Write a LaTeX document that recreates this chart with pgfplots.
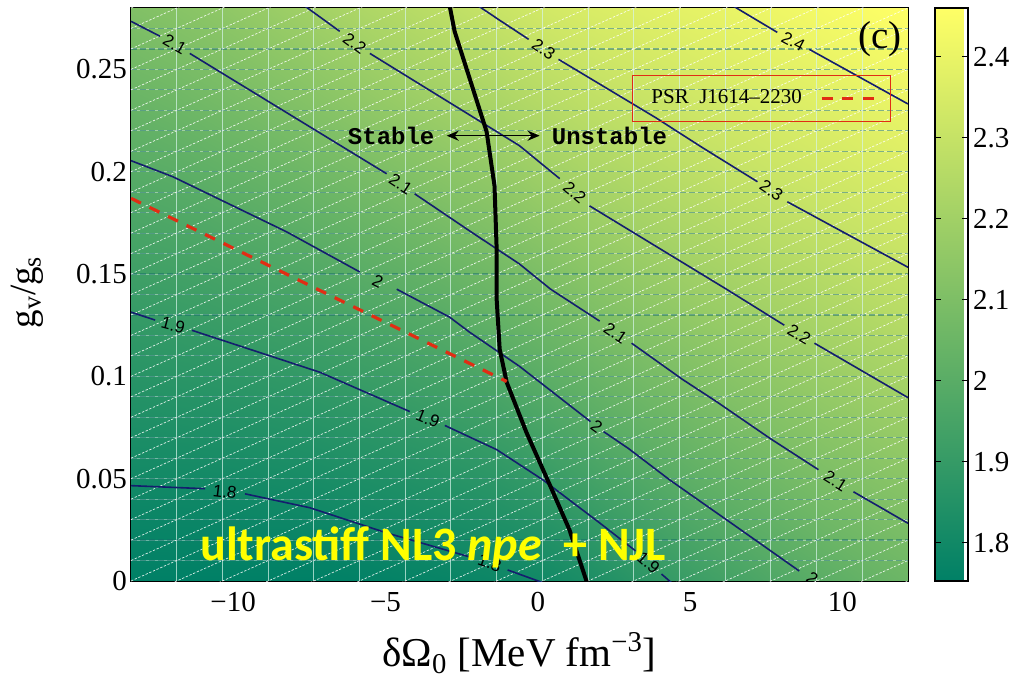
\documentclass[border=0pt]{standalone}
\usepackage{fontspec}
\setmainfont{Liberation Serif}
\newfontfamily\sansf{Liberation Sans}
\newfontfamily\monof{Liberation Mono}
\newfontfamily\calib{Carlito}
\usepackage{pgfplots}
\pgfplotsset{compat=1.18}
\usepackage{pgfplotstable}
\usetikzlibrary{arrows.meta}

\definecolor{cline}{RGB}{20,30,110}
\definecolor{redl}{RGB}{225,45,20}
\definecolor{meshv}{RGB}{215,245,235}
\definecolor{meshh}{RGB}{20,110,105}
\definecolor{yel}{RGB}{255,255,0}

\pgfplotstableread{
x y z
-13.35 0 1.745
-11.85 0 1.742
-10.35 0 1.742
-8.85 0 1.744
-7.35 0 1.748
-5.85 0 1.758
-4.35 0 1.767
-2.85 0 1.776
-1.35 0 1.788
0.15 0 1.801
1.65 0 1.830
3.15 0 1.868
4.65 0 1.906
6.15 0 1.938
7.65 0 1.972
9.15 0 2.001
10.65 0 2.029
12.15 0 2.053
-13.35 0.04 1.792
-11.85 0.04 1.793
-10.35 0.04 1.795
-8.85 0.04 1.801
-7.35 0.04 1.807
-5.85 0.04 1.819
-4.35 0.04 1.830
-2.85 0.04 1.843
-1.35 0.04 1.858
0.15 0.04 1.881
1.65 0.04 1.916
3.15 0.04 1.952
4.65 0.04 1.987
6.15 0.04 2.017
7.65 0.04 2.046
9.15 0.04 2.075
10.65 0.04 2.098
12.15 0.04 2.120
-13.35 0.08 1.840
-11.85 0.08 1.844
-10.35 0.08 1.849
-8.85 0.08 1.857
-7.35 0.08 1.866
-5.85 0.08 1.879
-4.35 0.08 1.894
-2.85 0.08 1.911
-1.35 0.08 1.933
0.15 0.08 1.965
1.65 0.08 2.001
3.15 0.08 2.033
4.65 0.08 2.063
6.15 0.08 2.092
7.65 0.08 2.118
9.15 0.08 2.142
10.65 0.08 2.164
12.15 0.08 2.186
-13.35 0.12 1.887
-11.85 0.12 1.894
-10.35 0.12 1.904
-8.85 0.12 1.915
-7.35 0.12 1.928
-5.85 0.12 1.946
-4.35 0.12 1.965
-2.85 0.12 1.984
-1.35 0.12 2.014
0.15 0.12 2.045
1.65 0.12 2.078
3.15 0.12 2.109
4.65 0.12 2.136
6.15 0.12 2.162
7.65 0.12 2.186
9.15 0.12 2.208
10.65 0.12 2.229
12.15 0.12 2.249
-13.35 0.16 1.939
-11.85 0.16 1.949
-10.35 0.16 1.962
-8.85 0.16 1.977
-7.35 0.16 1.995
-5.85 0.16 2.016
-4.35 0.16 2.038
-2.85 0.16 2.062
-1.35 0.16 2.089
0.15 0.16 2.119
1.65 0.16 2.153
3.15 0.16 2.181
4.65 0.16 2.206
6.15 0.16 2.228
7.65 0.16 2.250
9.15 0.16 2.271
10.65 0.16 2.291
12.15 0.16 2.308
-13.35 0.20 1.993
-11.85 0.20 2.005
-10.35 0.20 2.023
-8.85 0.20 2.042
-7.35 0.20 2.064
-5.85 0.20 2.087
-4.35 0.20 2.112
-2.85 0.20 2.138
-1.35 0.20 2.163
0.15 0.20 2.194
1.65 0.20 2.224
3.15 0.20 2.247
4.65 0.20 2.269
6.15 0.20 2.292
7.65 0.20 2.311
9.15 0.20 2.327
10.65 0.20 2.343
12.15 0.20 2.359
-13.35 0.24 2.051
-11.85 0.24 2.067
-10.35 0.24 2.087
-8.85 0.24 2.109
-7.35 0.24 2.134
-5.85 0.24 2.160
-4.35 0.24 2.187
-2.85 0.24 2.212
-1.35 0.24 2.236
0.15 0.24 2.264
1.65 0.24 2.290
3.15 0.24 2.310
4.65 0.24 2.328
6.15 0.24 2.345
7.65 0.24 2.362
9.15 0.24 2.378
10.65 0.24 2.394
12.15 0.24 2.410
-13.35 0.28 2.110
-11.85 0.28 2.129
-10.35 0.28 2.149
-8.85 0.28 2.177
-7.35 0.28 2.204
-5.85 0.28 2.234
-4.35 0.28 2.257
-2.85 0.28 2.282
-1.35 0.28 2.308
0.15 0.28 2.334
1.65 0.28 2.355
3.15 0.28 2.370
4.65 0.28 2.385
6.15 0.28 2.397
7.65 0.28 2.413
9.15 0.28 2.429
10.65 0.28 2.445
12.15 0.28 2.461
}\surfdata

\begin{document}
\begin{tikzpicture}
\begin{axis}[
  name=ax, scale only axis, width=388.5pt, height=286.5pt,
  xmin=-13.35, xmax=12.15, ymin=0, ymax=0.28,
  xtick={-10,-5,0,5,10}, xticklabels={−10,−5,0,5,10},
  ytick={0,0.05,0.1,0.15,0.2,0.25}, yticklabels={0,0.05,0.1,0.15,0.2,0.25},
  tick align=inside, major tick length=4pt, tick pos=both,
  tick label style={font=\fontsize{14.5}{16}\selectfont},
  xticklabel style={yshift=-2.3pt},
  yticklabel style={xshift=1.5pt},
  tick style={black, line width=0.5pt},
  axis line style={line width=0.6pt},
  unbounded coords=jump,
  colormap={summer}{rgb255=(0,128,102) rgb255=(255,255,102)},
  point meta min=1.753, point meta max=2.46,
  colorbar,
  colorbar style={
    at={(parent axis.north east)}, anchor=north west, xshift=5pt,
    width=16.5pt,
    ytick={1.8,1.9,2,2.1,2.2,2.3,2.4},
    yticklabels={1.8,1.9,2,2.1,2.2,2.3,2.4},
    yticklabel style={font=\fontsize{14.5}{16}\selectfont, xshift=-1pt},
    tick align=inside, major tick length=3pt, tick pos=both, yticklabel pos=right,
    axis line style={line width=1pt},
  },
  xlabel={δΩ\textsubscript{0} [MeV fm\textsuperscript{−3}]},
  xlabel style={at={(axis description cs:0.5,-0.150)}, anchor=base, font=\fontsize{20.5}{23}\selectfont},
  ylabel={g\textsubscript{v}/g\textsubscript{s}},
  ylabel style={at={(axis description cs:-0.123,0.504)}, anchor=base, font=\fontsize{18.5}{21}\selectfont},
  legend plot pos=right,
  legend image code/.code={\draw[#1] (0pt,0pt) -- (26pt,0pt);},
  legend style={at={(0.6448,0.8831)}, anchor=north west, draw=redl, fill=none,
    font=\fontsize{10.5}{12}\selectfont, inner xsep=7.5pt, inner ysep=5.2pt,
    /tikz/every odd column/.append style={column sep=7pt}},
]
% colour field
\addplot[surf, shader=interp, mesh/cols=18, point meta=explicit, forget plot]
  table[x=x, y=y, meta=z] {\surfdata};

% mesh overlay: vertical lines
\addplot[meshv, opacity=0.7, line width=0.55pt, forget plot] coordinates {
(-11.85,0) (-11.85,0.28) (0,nan) (-10.35,0) (-10.35,0.28) (0,nan)
(-8.85,0) (-8.85,0.28) (0,nan) (-7.35,0) (-7.35,0.28) (0,nan)
(-5.85,0) (-5.85,0.28) (0,nan) (-4.35,0) (-4.35,0.28) (0,nan)
(-2.85,0) (-2.85,0.28) (0,nan) (-1.35,0) (-1.35,0.28) (0,nan)
(0.15,0) (0.15,0.28) (0,nan) (1.65,0) (1.65,0.28) (0,nan)
(3.15,0) (3.15,0.28) (0,nan) (4.65,0) (4.65,0.28) (0,nan)
(6.15,0) (6.15,0.28) (0,nan) (7.65,0) (7.65,0.28) (0,nan)
(9.15,0) (9.15,0.28) (0,nan) (10.65,0) (10.65,0.28)
};
% mesh overlay: horizontal lines
\addplot[white, opacity=0.4, line width=0.5pt, forget plot] coordinates {
(-13.35,0.01) (12.15,0.01) (0,nan) (-13.35,0.02) (12.15,0.02) (0,nan)
(-13.35,0.03) (12.15,0.03) (0,nan) (-13.35,0.04) (12.15,0.04) (0,nan)
(-13.35,0.05) (12.15,0.05) (0,nan) (-13.35,0.06) (12.15,0.06) (0,nan)
(-13.35,0.07) (12.15,0.07) (0,nan) (-13.35,0.08) (12.15,0.08) (0,nan)
(-13.35,0.09) (12.15,0.09) (0,nan) (-13.35,0.10) (12.15,0.10) (0,nan)
(-13.35,0.11) (12.15,0.11) (0,nan) (-13.35,0.12) (12.15,0.12) (0,nan)
(-13.35,0.13) (12.15,0.13) (0,nan) (-13.35,0.14) (12.15,0.14) (0,nan)
(-13.35,0.15) (12.15,0.15) (0,nan) (-13.35,0.16) (12.15,0.16) (0,nan)
(-13.35,0.17) (12.15,0.17) (0,nan) (-13.35,0.18) (12.15,0.18) (0,nan)
(-13.35,0.19) (12.15,0.19) (0,nan) (-13.35,0.20) (12.15,0.20) (0,nan)
(-13.35,0.21) (12.15,0.21) (0,nan) (-13.35,0.22) (12.15,0.22) (0,nan)
(-13.35,0.23) (12.15,0.23) (0,nan) (-13.35,0.24) (12.15,0.24) (0,nan)
(-13.35,0.25) (12.15,0.25) (0,nan) (-13.35,0.26) (12.15,0.26) (0,nan)
(-13.35,0.27) (12.15,0.27)
};
\addplot[meshh, opacity=0.5, line width=0.6pt, dash pattern=on 3pt off 1.5pt, forget plot] coordinates {
(-13.35,0.01) (12.15,0.01) (0,nan) (-13.35,0.02) (12.15,0.02) (0,nan)
(-13.35,0.03) (12.15,0.03) (0,nan) (-13.35,0.04) (12.15,0.04) (0,nan)
(-13.35,0.05) (12.15,0.05) (0,nan) (-13.35,0.06) (12.15,0.06) (0,nan)
(-13.35,0.07) (12.15,0.07) (0,nan) (-13.35,0.08) (12.15,0.08) (0,nan)
(-13.35,0.09) (12.15,0.09) (0,nan) (-13.35,0.10) (12.15,0.10) (0,nan)
(-13.35,0.11) (12.15,0.11) (0,nan) (-13.35,0.12) (12.15,0.12) (0,nan)
(-13.35,0.13) (12.15,0.13) (0,nan) (-13.35,0.14) (12.15,0.14) (0,nan)
(-13.35,0.15) (12.15,0.15) (0,nan) (-13.35,0.16) (12.15,0.16) (0,nan)
(-13.35,0.17) (12.15,0.17) (0,nan) (-13.35,0.18) (12.15,0.18) (0,nan)
(-13.35,0.19) (12.15,0.19) (0,nan) (-13.35,0.20) (12.15,0.20) (0,nan)
(-13.35,0.21) (12.15,0.21) (0,nan) (-13.35,0.22) (12.15,0.22) (0,nan)
(-13.35,0.23) (12.15,0.23) (0,nan) (-13.35,0.24) (12.15,0.24) (0,nan)
(-13.35,0.25) (12.15,0.25) (0,nan) (-13.35,0.26) (12.15,0.26) (0,nan)
(-13.35,0.27) (12.15,0.27)
};
% mesh overlay: diagonals
\addplot[white, opacity=0.85, line width=0.35pt, dash pattern=on 1.2pt off 0.8pt, forget plot] coordinates {
(-13.35,-0.17) (12.15,0.00) (0,nan) (-13.35,-0.16) (12.15,0.01) (0,nan)
(-13.35,-0.15) (12.15,0.02) (0,nan) (-13.35,-0.14) (12.15,0.03) (0,nan)
(-13.35,-0.13) (12.15,0.04) (0,nan) (-13.35,-0.12) (12.15,0.05) (0,nan)
(-13.35,-0.11) (12.15,0.06) (0,nan) (-13.35,-0.10) (12.15,0.07) (0,nan)
(-13.35,-0.09) (12.15,0.08) (0,nan) (-13.35,-0.08) (12.15,0.09) (0,nan)
(-13.35,-0.07) (12.15,0.10) (0,nan) (-13.35,-0.06) (12.15,0.11) (0,nan)
(-13.35,-0.05) (12.15,0.12) (0,nan) (-13.35,-0.04) (12.15,0.13) (0,nan)
(-13.35,-0.03) (12.15,0.14) (0,nan) (-13.35,-0.02) (12.15,0.15) (0,nan)
(-13.35,-0.01) (12.15,0.16) (0,nan) (-13.35,0.00) (12.15,0.17) (0,nan)
(-13.35,0.01) (12.15,0.18) (0,nan) (-13.35,0.02) (12.15,0.19) (0,nan)
(-13.35,0.03) (12.15,0.20) (0,nan) (-13.35,0.04) (12.15,0.21) (0,nan)
(-13.35,0.05) (12.15,0.22) (0,nan) (-13.35,0.06) (12.15,0.23) (0,nan)
(-13.35,0.07) (12.15,0.24) (0,nan) (-13.35,0.08) (12.15,0.25) (0,nan)
(-13.35,0.09) (12.15,0.26) (0,nan) (-13.35,0.10) (12.15,0.27) (0,nan)
(-13.35,0.11) (12.15,0.28) (0,nan) (-13.35,0.12) (12.15,0.29) (0,nan)
(-13.35,0.13) (12.15,0.30) (0,nan) (-13.35,0.14) (12.15,0.31) (0,nan)
(-13.35,0.15) (12.15,0.32) (0,nan) (-13.35,0.16) (12.15,0.33) (0,nan)
(-13.35,0.17) (12.15,0.34) (0,nan) (-13.35,0.18) (12.15,0.35) (0,nan)
(-13.35,0.19) (12.15,0.36) (0,nan) (-13.35,0.20) (12.15,0.37) (0,nan)
(-13.35,0.21) (12.15,0.38) (0,nan) (-13.35,0.22) (12.15,0.39) (0,nan)
(-13.35,0.23) (12.15,0.40) (0,nan) (-13.35,0.24) (12.15,0.41) (0,nan)
(-13.35,0.25) (12.15,0.42) (0,nan) (-13.35,0.26) (12.15,0.43) (0,nan)
(-13.35,0.27) (12.15,0.44) (0,nan) (-13.35,0.28) (12.15,0.45)
};

% contour lines
\addplot[cline, line width=0.8pt, forget plot] coordinates {
(-13.35,0.0466) (-10.92,0.0451) (0,nan)
(-9.61,0.0426) (-7.48,0.0358) (-4.96,0.0235) (-2.24,0.0118) (0,nan)
(-0.99,0.0054) (0.2,-0.001)};
\addplot[cline, line width=0.8pt, forget plot] coordinates {
(-13.35,0.1314) (-12.56,0.1275) (0,nan)
(-11.35,0.1225) (-7.15,0.1020) (-4.20,0.0828) (0,nan)
(-3.05,0.0760) (-1.35,0.0642) (0.16,0.0495) (2.03,0.0284) (3.21,0.0147) (0,nan)
(4.06,0.0034) (4.4,-0.001)};
\addplot[cline, line width=0.8pt, forget plot] coordinates {
(-13.35,0.2054) (-11.97,0.1975) (-8.24,0.1706) (-5.84,0.1510) (0,nan)
(-4.63,0.1426) (-2.89,0.1289) (-2.24,0.1216) (-0.60,0.1049) (1.73,0.0779) (0,nan)
(2.16,0.0730) (2.98,0.0647) (4.32,0.0495) (6.52,0.0265) (8.58,0.0049)};
\addplot[cline, line width=0.8pt, forget plot] coordinates {
(-13.35,0.2735) (-12.40,0.2662) (0,nan)
(-11.42,0.2578) (-4.96,0.1990) (0,nan)
(-4.04,0.1892) (-2.24,0.1711) (-0.60,0.1549) (0.42,0.1426) (2.03,0.1270) (0,nan)
(3.08,0.1162) (4.75,0.0985) (5.86,0.0877) (7.63,0.0696) (9.21,0.0544) (0,nan)
(10.36,0.0436) (12.15,0.0282)};
\addplot[cline, line width=0.8pt, forget plot] coordinates {
(-7.64,0.2809) (-6.50,0.2686) (0,nan)
(-5.51,0.2578) (-0.60,0.2127) (0.72,0.1966) (0,nan)
(1.70,0.1833) (6.19,0.1426) (8.09,0.1250) (0,nan)
(9.08,0.1162) (12.15,0.0896)};
\addplot[cline, line width=0.8pt, forget plot] coordinates {
(-1.94,0.2809) (-1.25,0.2740) (-0.30,0.2647) (0,nan)
(0.68,0.2549) (3.86,0.2265) (5.40,0.2118) (7.21,0.1951) (0,nan)
(8.19,0.1853) (12.15,0.1533)};
\addplot[cline, line width=0.8pt, forget plot] coordinates {
(6.42,0.2809) (7.86,0.2681) (0,nan)
(8.91,0.2598) (12.15,0.2331)};

% stability boundary
\addplot[black, line width=2pt, line join=round, forget plot] coordinates {
(-2.89,0.2809) (-2.73,0.2686) (-1.68,0.2196) (-1.42,0.1931) (-1.35,0.1623)
(-1.35,0.1377) (-1.25,0.1132) (-1.02,0.0971) (-0.37,0.0725) (0.42,0.0461)
(1.04,0.0250) (1.62,-0.001)};

% PSR J1614-2230 constraint
\addplot[redl, line width=1.6pt, dash pattern=on 5.5pt off 4.8pt] coordinates {
(-13.35,0.187) (-1.02,0.0975)};
\addlegendentry{PSR~~J1614–2230}

% contour labels
\begin{scope}[every node/.style={font=\fontsize{8.5}{10}\selectfont\sansf, inner sep=0pt}]
\node[rotate=-7]  at (axis cs:-10.27,0.0436) {1.8};
\node[rotate=-19] at (axis cs:-1.58,0.0088) {1.8};
\node[rotate=-15] at (axis cs:-11.97,0.125) {1.9};
\node[rotate=-22] at (axis cs:-3.61,0.0794) {1.9};
\node[rotate=-41] at (axis cs:3.63,0.0088) {1.9};
\node[rotate=-27] at (axis cs:-5.25,0.1466) {2};
\node[rotate=-36] at (axis cs:1.93,0.0755) {2};
\node[rotate=-35] at (axis cs:9.01,0.0015) {2};
\node[rotate=-30] at (axis cs:-11.91,0.2623) {2.1};
\node[rotate=-33] at (axis cs:-4.50,0.1941) {2.1};
\node[rotate=-34] at (axis cs:2.55,0.1211) {2.1};
\node[rotate=-32] at (axis cs:9.77,0.049) {2.1};
\node[rotate=-36] at (axis cs:-6.01,0.2627) {2.2};
\node[rotate=-40] at (axis cs:1.21,0.1897) {2.2};
\node[rotate=-31] at (axis cs:8.58,0.1206) {2.2};
\node[rotate=-34] at (axis cs:0.19,0.2598) {2.3};
\node[rotate=-34] at (axis cs:7.67,0.1907) {2.3};
\node[rotate=-28] at (axis cs:8.39,0.2637) {2.4};
\end{scope}

% annotations
\draw[{Stealth[length=6pt,width=5pt]}-{Stealth[length=6pt,width=5pt]}, line width=0.8pt]
  (axis cs:-2.99,0.2176) -- (axis cs:0.06,0.2176);
\node[anchor=east, inner sep=0pt, font=\fontsize{12}{14}\selectfont\monof\bfseries] at (axis cs:-3.38,0.2176) {Stable};
\node[anchor=west, inner sep=0pt, font=\fontsize{12}{14}\selectfont\monof\bfseries] at (axis cs:0.45,0.2176) {Unstable};
\node[anchor=base west, inner sep=0pt, text=yel, font=\fontsize{24}{26}\selectfont\calib\bfseries] at (axis cs:-11.09,0.0098) {ultrastiff NL3 \textit{npe}~~+ NJL};
\node[inner sep=0pt, font=\fontsize{19.5}{22}\selectfont] at (axis cs:11.24,0.265) {(c)};
\end{axis}
\pgfresetboundingbox
\path ([shift={(-65.5pt,-53pt)}]ax.south west) rectangle ([shift={(443pt,290.5pt)}]ax.south west);
\end{tikzpicture}
\end{document}
